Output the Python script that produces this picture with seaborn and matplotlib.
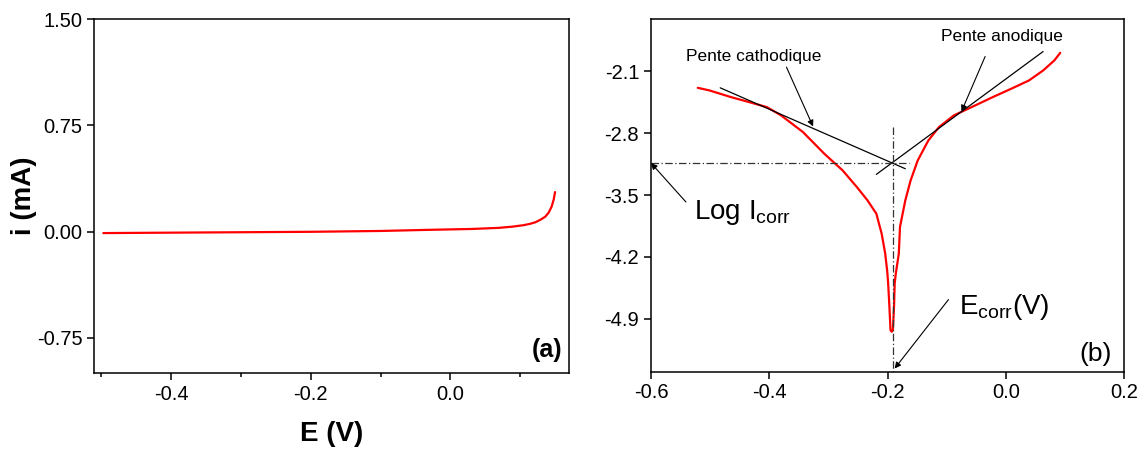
import numpy as np
import pandas as pd
import seaborn as sns
import matplotlib.pyplot as plt

# (a) linear polarisation curve, i (mA) vs E (V)
e_lin = [-0.497, -0.40, -0.30, -0.20, -0.10, -0.03, 0.03, 0.07, 0.09, 0.105, 0.114, 0.122, 0.129, 0.136, 0.141, 0.145, 0.148, 0.150]
i_lin = [-0.011, -0.008, -0.005, -0.002, 0.004, 0.012, 0.018, 0.026, 0.035, 0.045, 0.054, 0.066, 0.083, 0.105, 0.135, 0.175, 0.225, 0.279]

# (b) Tafel curve, log i vs E (V)
e_taf = [-0.521, -0.501, -0.465, -0.434, -0.404, -0.380, -0.343, -0.307, -0.276, -0.252,
         -0.234, -0.219, -0.210, -0.204, -0.2005, -0.199, -0.197, -0.195, -0.193, -0.191,
         -0.189, -0.188, -0.186, -0.181, -0.179, -0.170, -0.161, -0.149, -0.131, -0.113,
         -0.088, -0.052, -0.022, 0.009, 0.039, 0.063, 0.082, 0.092]
logi_taf = [-2.285, -2.315, -2.390, -2.447, -2.504, -2.598, -2.787, -3.032, -3.221, -3.409,
            -3.560, -3.711, -3.938, -4.164, -4.370, -4.504, -4.750, -5.032, -5.049, -5.030,
            -4.750, -4.504, -4.387, -4.164, -3.862, -3.560, -3.334, -3.108, -2.881, -2.730,
            -2.598, -2.485, -2.390, -2.296, -2.202, -2.089, -1.975, -1.889]

# Tafel construction
cath_x, cath_y = [-0.483, -0.170], [-2.285, -3.202]
anod_x, anod_y = [-0.219, 0.063], [-3.266, -1.874]
e_corr, log_icorr = -0.191, -3.138

df_a = pd.DataFrame({"E": e_lin, "i": i_lin})
df_b = pd.DataFrame({"E": e_taf, "logi": logi_taf})

sns.set_theme(style="ticks")
plt.rcParams["font.family"] = ["Liberation Sans", "DejaVu Sans"]
plt.rcParams["mathtext.fontset"] = "custom"
plt.rcParams["mathtext.rm"] = "Liberation Sans"
plt.rcParams["axes.linewidth"] = 1.1
for key in ["text.color", "axes.labelcolor", "xtick.color", "ytick.color",
            "xtick.labelcolor", "ytick.labelcolor", "axes.edgecolor"]:
    plt.rcParams[key] = "black"

fig = plt.figure(figsize=(11.44, 4.5), dpi=100)
ax1 = fig.add_axes([0.0824, 0.1711, 0.4150, 0.7860])
ax2 = fig.add_axes([0.5691, 0.1744, 0.4135, 0.7844])

# ---- panel (a)
sns.lineplot(data=df_a, x="E", y="i", ax=ax1, color="#ff0000", lw=1.6, sort=False, estimator=None)
ax1.set_xlim(-0.51, 0.17)
ax1.set_ylim(-1.0, 1.5)
ax1.set_xticks([-0.4, -0.2, 0.0])
ax1.set_xticks([-0.5, -0.3, -0.1, 0.1], minor=True)
ax1.set_yticks([1.5, 0.75, 0.0, -0.75])
ax1.set_yticklabels(["1.50", "0.75", "0.00", "-0.75"])
ax1.set_xticklabels(["-0.4", "-0.2", "0.0"])
ax1.tick_params(axis="both", which="major", direction="out", length=5, width=1.1, labelsize=14.5)
ax1.tick_params(axis="x", which="minor", direction="out", length=3, width=1.1)
ax1.set_xlabel("E (V)", fontsize=20, fontweight="bold")
ax1.set_ylabel("i (mA)", fontsize=20, fontweight="bold")
ax1.xaxis.set_label_coords(0.5, -0.135)
ax1.yaxis.set_label_coords(-0.12, 0.5)
ax1.text(0.987, 0.045, "(a)", transform=ax1.transAxes, ha="right", va="baseline",
         fontsize=18, fontweight="bold")

# ---- panel (b)
sns.lineplot(data=df_b, x="E", y="logi", ax=ax2, color="#ff0000", lw=1.6, sort=False, estimator=None)
ax2.plot(cath_x, cath_y, color="black", lw=0.9)
ax2.plot(anod_x, anod_y, color="black", lw=0.9)
ax2.plot([-0.6, -0.164], [log_icorr, log_icorr], color="#333333", lw=0.9, ls=(0, (6, 2, 1, 2)))
ax2.plot([e_corr, e_corr], [-2.73, -5.5], color="#333333", lw=0.9, ls=(0, (6, 2, 1, 2)))
ax2.set_xlim(-0.6, 0.2)
ax2.set_ylim(-5.5, -1.5)
ax2.set_xticks([-0.6, -0.4, -0.2, 0.0, 0.2])
ax2.set_xticklabels(["-0.6", "-0.4", "-0.2", "0.0", "0.2"])
ax2.set_yticks([-2.1, -2.8, -3.5, -4.2, -4.9])
ax2.set_yticklabels(["-2.1", "-2.8", "-3.5", "-4.2", "-4.9"])
ax2.tick_params(axis="both", direction="out", length=5, width=1.1, labelsize=14.5)
ax2.set_xlabel("")
ax2.set_ylabel("")

arrow = dict(arrowstyle="-|>", color="black", lw=0.8, mutation_scale=9, shrinkA=0, shrinkB=0)
ax2.annotate("", xy=(-0.326, -2.723), xytext=(-0.371, -2.051), arrowprops=arrow)
ax2.annotate("", xy=(-0.075, -2.553), xytext=(-0.035, -1.930), arrowprops=arrow)
ax2.annotate("", xy=(-0.6, log_icorr), xytext=(-0.541, -3.579), arrowprops=arrow)
ax2.annotate("", xy=(-0.188, -5.466), xytext=(-0.097, -4.685), arrowprops=arrow)

ax2.text(-0.426, -1.925, "Pente cathodique", ha="center", va="center", fontsize=12.5)
ax2.text(-0.007, -1.706, "Pente anodique", ha="center", va="center", fontsize=12.5)
ax2.text(-0.527, -3.766, r"Log I$_{\mathrm{corr}}$", ha="left", va="baseline", fontsize=20)
ax2.text(-0.079, -4.843, r"E$_{\mathrm{corr}}$(V)", ha="left", va="baseline", fontsize=20)
ax2.text(0.974, 0.03, "(b)", transform=ax2.transAxes, ha="right", va="baseline", fontsize=19)

for ax in (ax1, ax2):
    for s in ax.spines.values():
        s.set_color("black")
        s.set_linewidth(1.1)

fig.savefig("out.png", dpi=100)
